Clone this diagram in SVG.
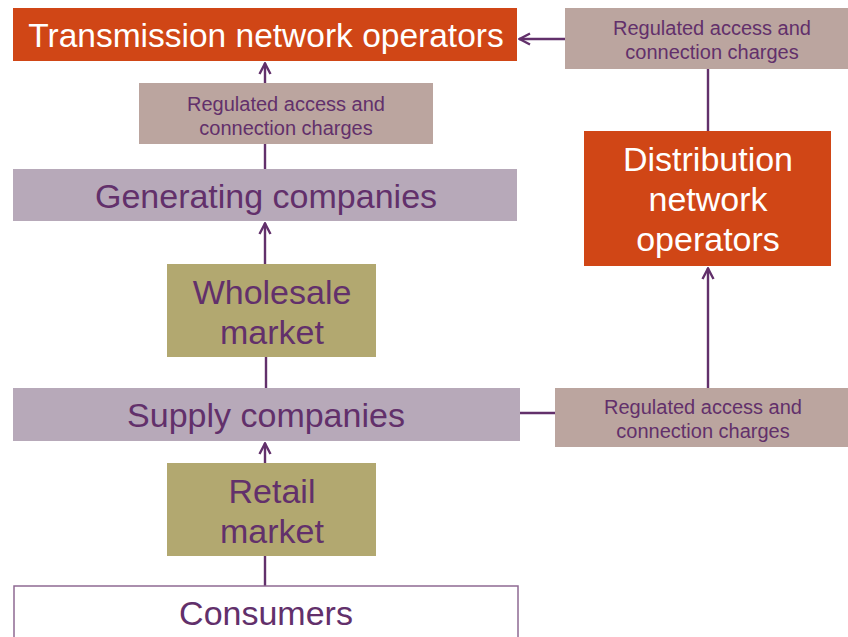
<svg xmlns="http://www.w3.org/2000/svg" width="848" height="637" viewBox="0 0 848 637">
<style>
.op{fill:#D04616}
.reg{fill:#BBA59F}
.co{fill:#B7A9B9}
.mk{fill:#B2A870}
.big{font-family:"Liberation Sans",Arial,sans-serif;font-size:34px;text-anchor:middle;fill:#62306B}
.wt{fill:#FFFFFF}
.sm{font-family:"Liberation Sans",Arial,sans-serif;font-size:20px;text-anchor:middle;fill:#62306B}
.ln{stroke:#62306B;stroke-width:2.4;fill:none}
</style>
<defs>
<marker id="ah" viewBox="0 0 14 14" refX="13" refY="7" markerWidth="14" markerHeight="14" markerUnits="userSpaceOnUse" orient="auto">
<path d="M2,1.5 L12.5,7 L2,12.5" fill="none" stroke="#62306B" stroke-width="2.4"/>
</marker>
</defs>
<g id="connectors">
<line class="ln" x1="265" y1="169" x2="265" y2="63" marker-end="url(#ah)"/>
<line class="ln" x1="565" y1="39" x2="519" y2="39" marker-end="url(#ah)"/>
<line class="ln" x1="708" y1="69" x2="708" y2="131"/>
<line class="ln" x1="708" y1="388" x2="708" y2="268" marker-end="url(#ah)"/>
<line class="ln" x1="520" y1="413" x2="555" y2="413"/>
<line class="ln" x1="265" y1="264" x2="265" y2="223" marker-end="url(#ah)"/>
<line class="ln" x1="266" y1="388" x2="266" y2="357"/>
<line class="ln" x1="265" y1="463" x2="265" y2="443" marker-end="url(#ah)"/>
<line class="ln" x1="265" y1="586" x2="265" y2="556"/>
</g>
<g id="tno">
<rect class="op" x="13" y="8" width="504" height="53"/>
<text class="big wt" x="266" y="47" style="font-size:33.5px">Transmission network operators</text>
</g>
<g id="reg-top">
<rect class="reg" x="565" y="8" width="283" height="61"/>
<text class="sm" x="712" y="35">Regulated access and</text>
<text class="sm" x="712" y="59">connection charges</text>
</g>
<g id="reg-mid">
<rect class="reg" x="139" y="83" width="294" height="61"/>
<text class="sm" x="286" y="111">Regulated access and</text>
<text class="sm" x="286" y="135">connection charges</text>
</g>
<g id="dno">
<rect class="op" x="584" y="131" width="247" height="135"/>
<text class="big wt" x="708" y="171">Distribution</text>
<text class="big wt" x="708" y="211">network</text>
<text class="big wt" x="708" y="251">operators</text>
</g>
<g id="gen">
<rect class="co" x="13" y="169" width="504" height="52"/>
<text class="big" x="266" y="208">Generating companies</text>
</g>
<g id="wholesale">
<rect class="mk" x="167" y="264" width="209" height="93"/>
<text class="big" x="272" y="304">Wholesale</text>
<text class="big" x="272" y="344">market</text>
</g>
<g id="supply">
<rect class="co" x="13" y="388" width="507" height="53"/>
<text class="big" x="266" y="427">Supply companies</text>
</g>
<g id="reg-low">
<rect class="reg" x="555" y="388" width="293" height="59"/>
<text class="sm" x="703" y="414">Regulated access and</text>
<text class="sm" x="703" y="438">connection charges</text>
</g>
<g id="retail">
<rect class="mk" x="167" y="463" width="209" height="93"/>
<text class="big" x="272" y="503">Retail</text>
<text class="big" x="272" y="543">market</text>
</g>
<g id="consumers">
<rect x="14" y="586" width="504" height="60" fill="#FFFFFF" stroke="#8E6A93" stroke-width="1.5"/>
<text class="big" x="266" y="625">Consumers</text>
</g>
</svg>
